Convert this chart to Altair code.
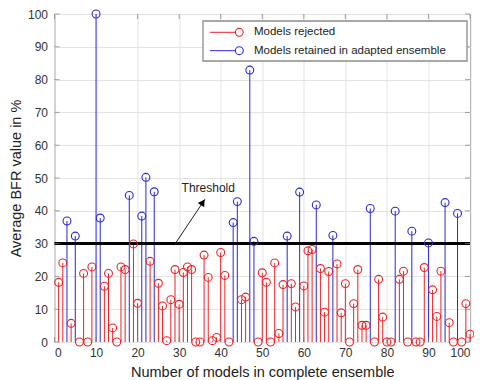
import altair as alt
import pandas as pd

# ---------------- data ----------------
models = list(range(1, 101))
bfr = [18.2, 24.1, 36.9, 5.7, 32.3, 0, 20.9, 0, 22.9, 100,
       37.8, 17.0, 20.9, 4.3, 0, 22.9, 22.1, 44.7, 29.9, 11.8,
       38.4, 50.2, 24.6, 45.8, 17.9, 11.0, 0.4, 12.9, 22.1, 11.5,
       21.2, 22.9, 22.1, 0, 0, 26.5, 19.7, 0.4, 1.4, 27.3,
       20.3, 0, 36.4, 42.8, 12.9, 13.7, 82.9, 30.7, 0, 21.1,
       18.2, 0, 24.1, 2.6, 17.5, 32.3, 17.8, 10.7, 45.7, 17.1,
       27.8, 28.2, 41.8, 22.4, 9.1, 21.5, 32.5, 23.8, 8.9, 17.8,
       0, 11.7, 22.1, 5.1, 5.1, 40.7, 0, 19.1, 7.6, 0,
       0, 39.9, 19.1, 21.6, 0, 33.8, 0, 0, 22.7, 30.2,
       15.9, 7.8, 21.6, 42.5, 5.9, 0, 39.2, 0, 11.7, 2.4]
threshold = 30
groups = ["Models rejected", "Models retained in adapted ensemble"]
colors = ["#ec2226", "#2a2ad8"]
tick_vals = list(range(0, 101, 10))
x_title = "Number of models in complete ensemble"
y_title = "Average BFR value in %"

arrow_x = [28.8, 36.2]
arrow_y = [29.5, 43.5]
head_x = [35.7]
head_y = [42.6]
label_x = [37.0]
label_y = [47.1]
label_text = ["Threshold"]

W, H = 415.5, 328

df = pd.DataFrame({"model": models, "bfr": bfr})
df["group"] = [groups[1] if v > threshold else groups[0] for v in bfr]

color = alt.Color("group:N", scale=alt.Scale(domain=groups, range=colors), legend=None)
xs = alt.Scale(domain=[0, 100], nice=False, zero=False)
ys = alt.Scale(domain=[0, 100], nice=False, zero=False)
x_axis = alt.Axis(values=tick_vals, title=x_title, grid=True, ticks=False, domain=False,
                  labelPadding=5, titlePadding=7, labelOverlap=False)
y_axis = alt.Axis(values=tick_vals, title=y_title, grid=True, ticks=False, domain=False,
                  labelPadding=7, titlePadding=4, labelOverlap=False)


def X(f):
    return alt.X(f, scale=xs, axis=x_axis)


def Y(f):
    return alt.Y(f, scale=ys, axis=y_axis)


base = alt.Chart(df)

stems = base.mark_rule(strokeWidth=1).encode(
    x=X("model:Q"), y=Y("bfr:Q"), y2=alt.datum(0), color=color)

thr = alt.Chart(pd.DataFrame({"t": [threshold]})).mark_rule(
    color="black", strokeWidth=3).encode(y=Y("t:Q"))

circles = base.mark_point(shape="circle", filled=False, size=62, strokeWidth=1.1,
                          opacity=1).encode(x=X("model:Q"), y=Y("bfr:Q"), color=color)

arrow_df = pd.DataFrame({"x": [arrow_x[0]], "y": [arrow_y[0]],
                         "x2": [arrow_x[1]], "y2": [arrow_y[1]]})
arrow = alt.Chart(arrow_df).mark_rule(color="#222222", strokeWidth=1).encode(
    x=X("x:Q"), y=Y("y:Q"), x2="x2:Q", y2="y2:Q")
head = alt.Chart(pd.DataFrame({"x": head_x, "y": head_y})).mark_point(
    shape="triangle-up", filled=True, color="black", size=60, angle=34, opacity=1).encode(
    x=X("x:Q"), y=Y("y:Q"))
label = alt.Chart(pd.DataFrame({"x": label_x, "y": label_y, "t": label_text})).mark_text(
    fontSize=12, font="Liberation Sans", color="#222222", align="center", baseline="middle").encode(
    x=X("x:Q"), y=Y("y:Q"), text="t:N")

tdf = pd.DataFrame({"v": tick_vals})
tick_col = "#7a7a7a"
tb = alt.Chart(tdf).mark_tick(orient="vertical", size=5, thickness=1, color=tick_col).encode(
    x=X("v:Q"), y=alt.value(H - 2.5))
tt = alt.Chart(tdf).mark_tick(orient="vertical", size=5, thickness=1, color=tick_col).encode(
    x=X("v:Q"), y=alt.value(2.5))
tl = alt.Chart(tdf).mark_tick(orient="horizontal", size=5, thickness=1, color=tick_col).encode(
    y=Y("v:Q"), x=alt.value(2.5))
tr = alt.Chart(tdf).mark_tick(orient="horizontal", size=5, thickness=1, color=tick_col).encode(
    y=Y("v:Q"), x=alt.value(W - 2.5))

# ---------------- legend (drawn manually, MATLAB style) ----------------
one = pd.DataFrame({"k": [0]})
box = alt.Chart(one).mark_rect(fill="white", stroke="#8c8c8c", strokeWidth=1.3).encode(
    x=alt.value(148.5), x2=alt.value(412.5), y=alt.value(7), y2=alt.value(47))
leg_layers = [box]
for i, (g, c) in enumerate(zip(groups, colors)):
    yy = 18.3 + i * 18.4
    ldf = pd.DataFrame({"label": [g]})
    leg_layers.append(alt.Chart(ldf).mark_rule(color=c, strokeWidth=1).encode(
        x=alt.value(155.5), x2=alt.value(181), y=alt.value(yy)))
    leg_layers.append(alt.Chart(ldf).mark_point(shape="circle", filled=False, size=62,
                                                strokeWidth=1.1, color=c, opacity=1).encode(
        x=alt.value(184.8), y=alt.value(yy)))
    leg_layers.append(alt.Chart(ldf).mark_text(fontSize=11.5, font="Liberation Sans",
                                               color="#222222", align="left",
                                               baseline="middle").encode(
        x=alt.value(199.5), y=alt.value(yy), text="label:N"))

chart = alt.layer(stems, thr, circles, arrow, head, label, tb, tt, tl, tr, *leg_layers).properties(
    width=W, height=H,
    autosize=alt.AutoSizeParams(type="none"),
    padding={"left": 46.5, "top": 6, "right": 4, "bottom": 38},
    background="white",
).configure_view(stroke="#8a8a8a", strokeWidth=1).configure_axis(
    gridColor="#e3e3e3", gridWidth=1,
    labelFont="Liberation Sans", labelFontSize=12, labelColor="#333333",
    titleFont="Liberation Sans", titleFontSize=14.5, titleColor="#222222",
    titleFontWeight="normal",
)

chart.save("out.html", embed_options={"renderer": "svg", "actions": False})
